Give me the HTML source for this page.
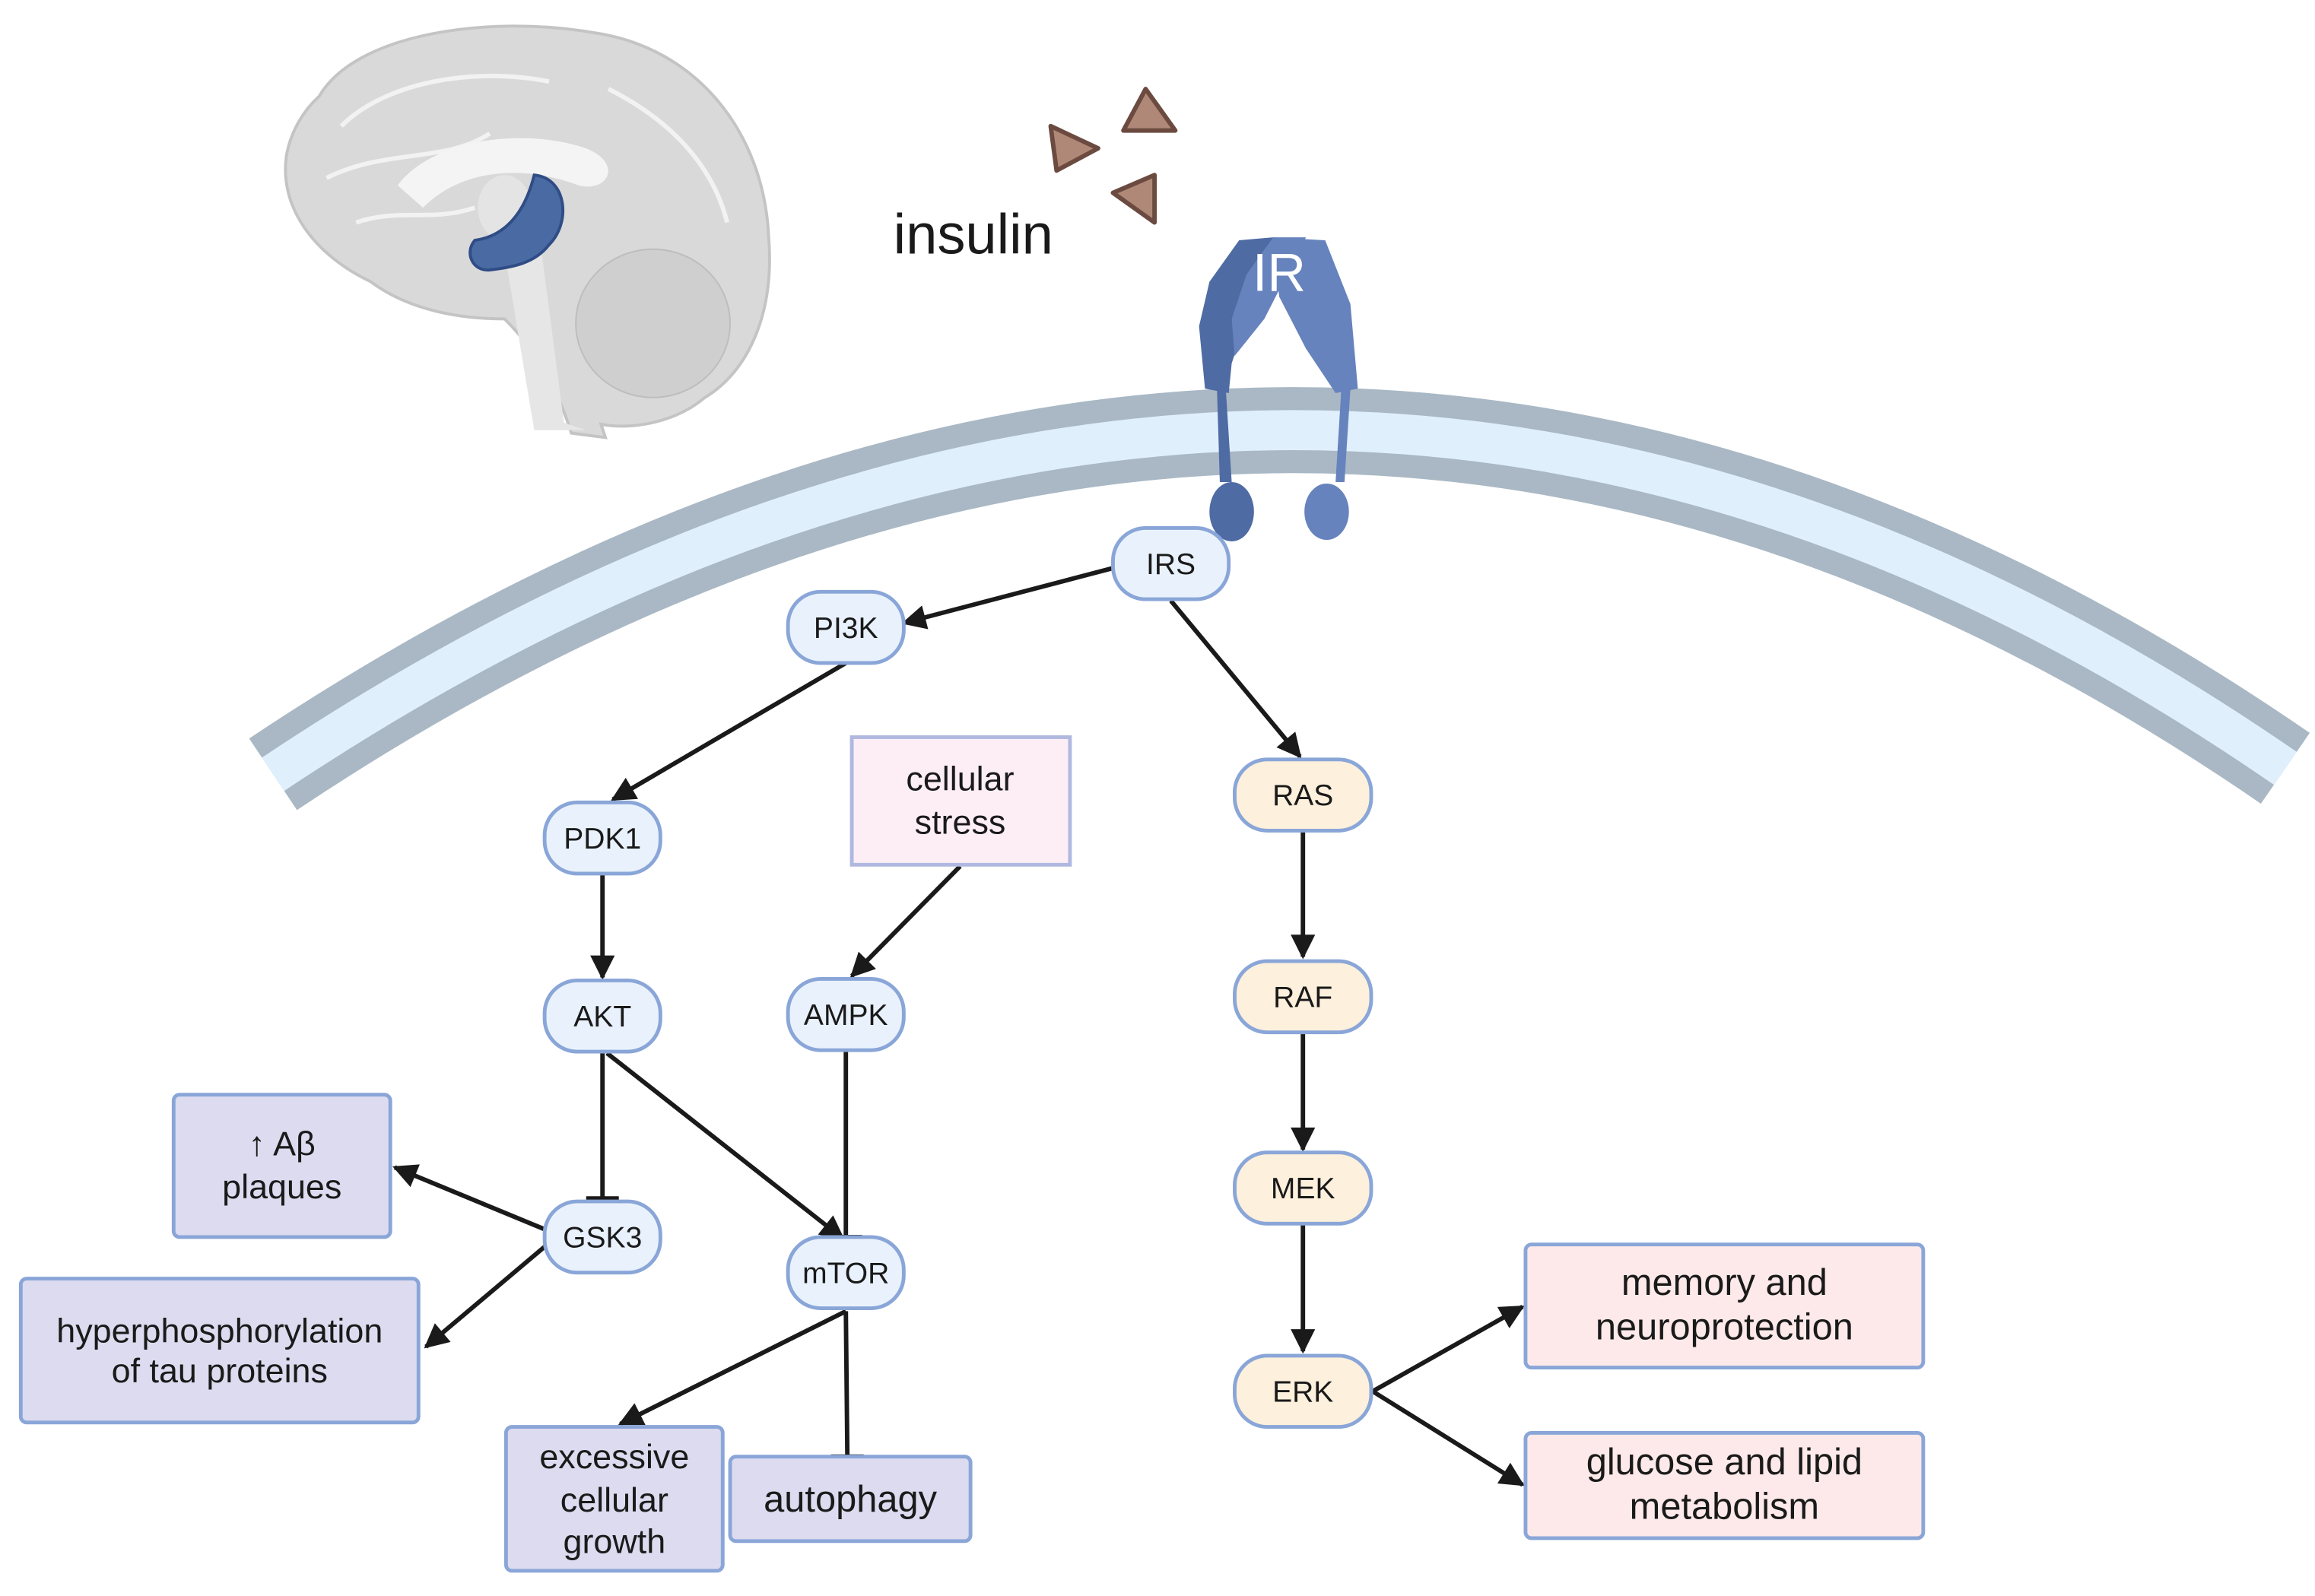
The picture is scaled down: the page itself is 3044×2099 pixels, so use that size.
<!DOCTYPE html>
<html><head><meta charset="utf-8"><style>
html,body{margin:0;padding:0;background:#fff;}
svg{display:block;}
text{font-family:"Liberation Sans","DejaVu Sans",sans-serif;fill:#1a1a1a;}
</style></head><body>
<svg width="3044" height="2099" viewBox="0 0 1560 1076" preserveAspectRatio="none" xmlns="http://www.w3.org/2000/svg">
<defs>
<marker id="ar" viewBox="0 0 10 10" refX="9" refY="5" markerWidth="6" markerHeight="5.5" orient="auto"><path d="M0,0 L10,5 L0,10 z" fill="#1a1a1a"/></marker>
</defs>
<rect width="1560" height="1076" fill="#fff"/>
<!-- brain -->
<g>
<path d="M215,65 C240,22 330,10 400,22 C470,32 515,90 518,160 C522,210 505,250 475,268 C455,285 425,290 405,286 L408,295 L385,292 C375,260 360,235 340,215 C300,215 270,205 250,190 C212,172 188,140 193,105 C196,88 205,74 215,65 Z" fill="#d9d9d9" stroke="#c4c4c4" stroke-width="2"/>
<path d="M230,85 C260,55 320,45 370,55 M220,120 C260,100 300,110 330,90 M410,60 C450,80 480,110 490,150 M240,150 C270,140 290,150 320,140" stroke="#f2f2f2" stroke-width="3" fill="none"/>
<path d="M268,125 C290,95 350,85 395,100 C420,110 410,130 390,125 C350,110 310,115 285,140 Z" fill="#f4f4f4"/>
<ellipse cx="440" cy="218" rx="52" ry="50" fill="#cfcfcf" stroke="#bdbdbd"/>
<path d="M340,170 L365,170 L380,285 L395,290 L360,290 Z" fill="#e6e6e6"/>
<ellipse cx="340" cy="140" rx="18" ry="22" fill="#e4e4e4"/>
<path d="M360,118 C382,120 385,150 370,165 C360,178 345,180 330,182 C318,183 313,170 320,162 C335,160 352,150 360,118 Z" fill="#4a6aa3" stroke="#2f4c85" stroke-width="2"/>
</g>
<!-- insulin -->
<text x="602" y="171" font-size="38">insulin</text>
<path d="M708,85 L712,115 L740,100 Z" fill="#b08878" stroke="#6b4a40" stroke-width="3" stroke-linejoin="round"/>
<path d="M772,60 L757,88 L792,88 Z" fill="#b08878" stroke="#6b4a40" stroke-width="3" stroke-linejoin="round"/>
<path d="M778,118 L750,130 L778,150 Z" fill="#b08878" stroke="#6b4a40" stroke-width="3" stroke-linejoin="round"/>
<!-- membrane -->
<path d="M184,522 Q876,60 1540,518" fill="none" stroke="#a9b8c4" stroke-width="58"/>
<path d="M184,522 Q876,60 1540,518" fill="none" stroke="#e0effc" stroke-width="27"/>
<!-- IR -->
<g fill="#6683bd">
<path d="M835,162 L858,160 L845,200 L830,245 L828,265 L812,262 L808,220 L815,190 Z" fill="#4e6ba3"/>
<path d="M858,160 L893,162 L910,205 L915,262 L900,265 L880,235 L862,200 Z"/>
<path d="M858,160 L880,160 L852,215 L832,240 L830,215 L840,185 Z"/>
<path d="M820,260 L826,262 L830,325 L822,325 Z" fill="#4e6ba3"/>
<path d="M904,260 L910,262 L906,325 L900,325 Z"/>
<ellipse cx="830" cy="345" rx="15" ry="20" fill="#4e6ba3"/>
<ellipse cx="894" cy="345" rx="15" ry="19"/>
</g>
<text x="862" y="196" font-size="36" text-anchor="middle" style="fill:#fff">IR</text>
<!-- connectors -->
<g stroke="#1a1a1a" stroke-width="3" fill="none">
<line x1="750" y1="383" x2="609" y2="420" marker-end="url(#ar)"/>
<line x1="789" y1="405" x2="876" y2="510" marker-end="url(#ar)"/>
<line x1="570" y1="447" x2="413" y2="539" marker-end="url(#ar)"/>
<line x1="406" y1="590" x2="406" y2="659" marker-end="url(#ar)"/>
<line x1="647" y1="584" x2="574" y2="658" marker-end="url(#ar)"/>
<line x1="406" y1="710" x2="406" y2="808"/><line x1="395" y1="808" x2="417" y2="808"/>
<line x1="409" y1="710" x2="568" y2="835" marker-end="url(#ar)"/>
<line x1="570" y1="708" x2="570" y2="834"/><line x1="559" y1="834" x2="581" y2="834"/>
<line x1="370" y1="830" x2="266" y2="787" marker-end="url(#ar)"/>
<line x1="370" y1="838" x2="287" y2="908" marker-end="url(#ar)"/>
<line x1="570" y1="884" x2="418" y2="960" marker-end="url(#ar)"/>
<line x1="570" y1="884" x2="571" y2="982"/><line x1="560" y1="982" x2="582" y2="982"/>
<line x1="878" y1="560" x2="878" y2="645" marker-end="url(#ar)"/>
<line x1="878" y1="696" x2="878" y2="775" marker-end="url(#ar)"/>
<line x1="878" y1="826" x2="878" y2="911" marker-end="url(#ar)"/>
<line x1="925" y1="938" x2="1026" y2="881" marker-end="url(#ar)"/>
<line x1="925" y1="938" x2="1026" y2="1001" marker-end="url(#ar)"/>
</g>
<!-- nodes -->
<g stroke="#8aa6d8" stroke-width="2.5">
<rect x="750" y="356" width="78" height="48" rx="22" fill="#e9f2fc"/>
<rect x="531" y="399" width="78" height="48" rx="22" fill="#e9f2fc"/>
<rect x="367" y="541" width="78" height="48" rx="22" fill="#e9f2fc"/>
<rect x="367" y="661" width="78" height="48" rx="22" fill="#e9f2fc"/>
<rect x="531" y="660" width="78" height="48" rx="22" fill="#e9f2fc"/>
<rect x="367" y="810" width="78" height="48" rx="22" fill="#e9f2fc"/>
<rect x="531" y="834" width="78" height="48" rx="22" fill="#e9f2fc"/>
<rect x="832" y="512" width="92" height="48" rx="22" fill="#fdf0dc"/>
<rect x="832" y="648" width="92" height="48" rx="22" fill="#fdf0dc"/>
<rect x="832" y="777" width="92" height="48" rx="22" fill="#fdf0dc"/>
<rect x="832" y="914" width="92" height="48" rx="22" fill="#fdf0dc"/>
<rect x="574" y="497" width="147" height="86" fill="#fdeef6" stroke="#b0b8e0"/>
<rect x="117" y="738" width="146" height="96" rx="4" fill="#dcdbef"/>
<rect x="14" y="862" width="268" height="97" rx="4" fill="#dcdbef"/>
<rect x="341" y="962" width="146" height="97" rx="4" fill="#dcdbef"/>
<rect x="492" y="982" width="162" height="57" rx="4" fill="#dcdbef"/>
<rect x="1028" y="839" width="268" height="83" rx="4" fill="#fde9e9"/>
<rect x="1028" y="966" width="268" height="71" rx="4" fill="#fde9e9"/>
</g>
<g font-size="20" text-anchor="middle">
<text x="789" y="387">IRS</text>
<text x="570" y="430">PI3K</text>
<text x="406" y="572">PDK1</text>
<text x="406" y="692">AKT</text>
<text x="570" y="691">AMPK</text>
<text x="406" y="841">GSK3</text>
<text x="570" y="865">mTOR</text>
<text x="878" y="543">RAS</text>
<text x="878" y="679">RAF</text>
<text x="878" y="808">MEK</text>
<text x="878" y="945">ERK</text>
</g>
<g font-size="23" text-anchor="middle">
<text x="647" y="533">cellular</text>
<text x="647" y="562">stress</text>
<text x="190" y="779">↑ Aβ</text>
<text x="190" y="808">plaques</text>
<text x="148" y="905">hyperphosphorylation</text>
<text x="148" y="932">of tau proteins</text>
<text x="414" y="990">excessive</text>
<text x="414" y="1019">cellular</text>
<text x="414" y="1047">growth</text>
<text x="573" y="1019" font-size="25">autophagy</text>
<text x="1162" y="873" font-size="25">memory and</text>
<text x="1162" y="903" font-size="25">neuroprotection</text>
<text x="1162" y="994" font-size="25">glucose and lipid</text>
<text x="1162" y="1024" font-size="25">metabolism</text>
</g>
</svg>
</body></html>
